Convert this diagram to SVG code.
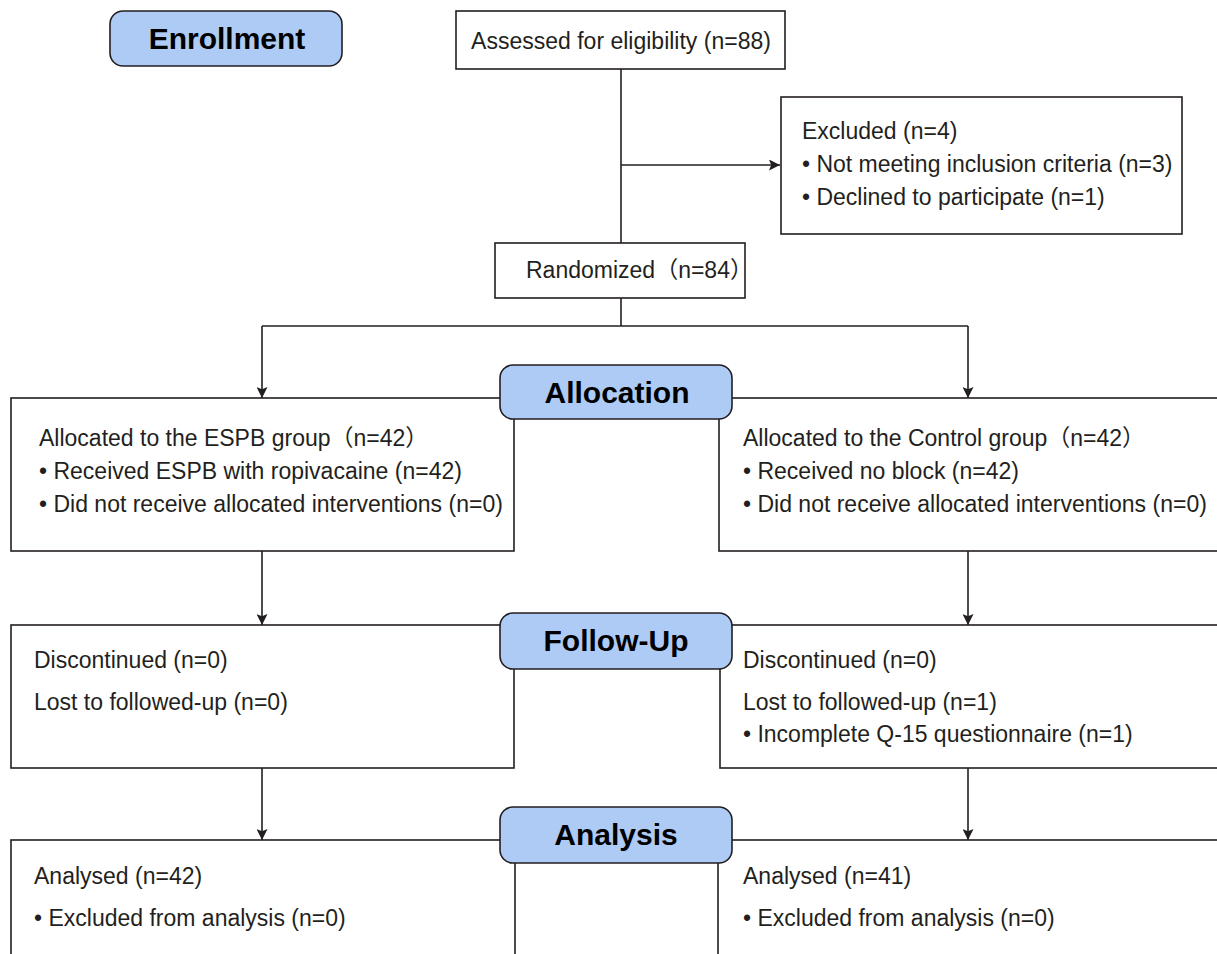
<svg xmlns="http://www.w3.org/2000/svg" width="1217" height="954" viewBox="0 0 1217 954">
<defs>
<marker id="arr" viewBox="0 0 10 10" refX="10" refY="5" markerWidth="13" markerHeight="11" markerUnits="userSpaceOnUse" orient="auto">
<path d="M0,0 L10,5 L0,10 L2,5 z" fill="#231f20"/>
</marker>
<style>
.box{fill:#fff;stroke:#231f20;stroke-width:1.6}
.hdr{fill:#aecbf6;stroke:#231f20;stroke-width:1.6}
.t{font-family:"Liberation Sans",Arial,"Noto Sans CJK SC",sans-serif;font-size:23px;fill:#231f20}
.h{font-family:"Liberation Sans",Arial,sans-serif;font-size:30px;font-weight:bold;fill:#000;text-anchor:middle}
.ln{fill:none;stroke:#231f20;stroke-width:1.6}
</style>
</defs>
<rect width="1217" height="954" fill="#fff"/>

<g id="connectors">
<path class="ln" d="M621,69 V243"/>
<path class="ln" d="M621,165 H780" marker-end="url(#arr)"/>
<path class="ln" d="M621,298 V326"/>
<path class="ln" d="M262,326 H968"/>
<path class="ln" d="M262,326 V398" marker-end="url(#arr)"/>
<path class="ln" d="M968,326 V398" marker-end="url(#arr)"/>
<path class="ln" d="M262,551 V625" marker-end="url(#arr)"/>
<path class="ln" d="M968,551 V625" marker-end="url(#arr)"/>
<path class="ln" d="M262,768 V840" marker-end="url(#arr)"/>
<path class="ln" d="M968,768 V840" marker-end="url(#arr)"/>
</g>

<g id="enrollment">
<rect class="hdr" x="110" y="11" width="232" height="55" rx="13"/>
<text class="h" x="227" y="49">Enrollment</text>
</g>

<g id="assessed">
<rect class="box" x="456" y="11" width="329" height="58"/>
<text class="t" x="621" y="49" text-anchor="middle">Assessed for eligibility (n=88)</text>
</g>

<g id="excluded">
<rect class="box" x="781" y="97" width="401" height="137"/>
<text class="t" x="802" y="139">Excluded (n=4)</text>
<text class="t" x="802" y="172">• Not meeting inclusion criteria (n=3)</text>
<text class="t" x="802" y="205">• Declined to participate (n=1)</text>
</g>

<g id="randomized">
<rect class="box" x="495" y="243" width="250" height="55"/>
<text class="t" x="526" y="278">Randomized（n=84）</text>
</g>

<g id="alloc-left">
<rect class="box" x="11" y="398" width="503" height="153"/>
<text class="t" x="39" y="446">Allocated to the ESPB group（n=42）</text>
<text class="t" x="39" y="479">• Received ESPB with ropivacaine (n=42)</text>
<text class="t" x="39" y="512">• Did not receive allocated interventions (n=0)</text>
</g>

<g id="alloc-right">
<rect class="box" x="719" y="398" width="510" height="153"/>
<text class="t" x="743" y="446">Allocated to the Control group（n=42）</text>
<text class="t" x="743" y="479">• Received no block (n=42)</text>
<text class="t" x="743" y="512">• Did not receive allocated interventions (n=0)</text>
</g>

<g id="allocation">
<rect class="hdr" x="500" y="365" width="232" height="54" rx="13"/>
<text class="h" x="617" y="403">Allocation</text>
</g>

<g id="follow-left">
<rect class="box" x="11" y="625" width="503" height="143"/>
<text class="t" x="34" y="668">Discontinued (n=0)</text>
<text class="t" x="34" y="710">Lost to followed-up (n=0)</text>
</g>

<g id="follow-right">
<rect class="box" x="720" y="625" width="510" height="143"/>
<text class="t" x="743" y="668">Discontinued (n=0)</text>
<text class="t" x="743" y="710">Lost to followed-up (n=1)</text>
<text class="t" x="743" y="742">• Incomplete Q-15 questionnaire (n=1)</text>
</g>

<g id="followup">
<rect class="hdr" x="500" y="613" width="232" height="56" rx="13"/>
<text class="h" x="616" y="651">Follow-Up</text>
</g>

<g id="analysis-left">
<rect class="box" x="11" y="840" width="504" height="130"/>
<text class="t" x="34" y="884">Analysed (n=42)</text>
<text class="t" x="34" y="926">• Excluded from analysis (n=0)</text>
</g>

<g id="analysis-right">
<rect class="box" x="718" y="840" width="512" height="130"/>
<text class="t" x="743" y="884">Analysed (n=41)</text>
<text class="t" x="743" y="926">• Excluded from analysis (n=0)</text>
</g>

<g id="analysis">
<rect class="hdr" x="500" y="807" width="232" height="56" rx="13"/>
<text class="h" x="616" y="845">Analysis</text>
</g>
</svg>
